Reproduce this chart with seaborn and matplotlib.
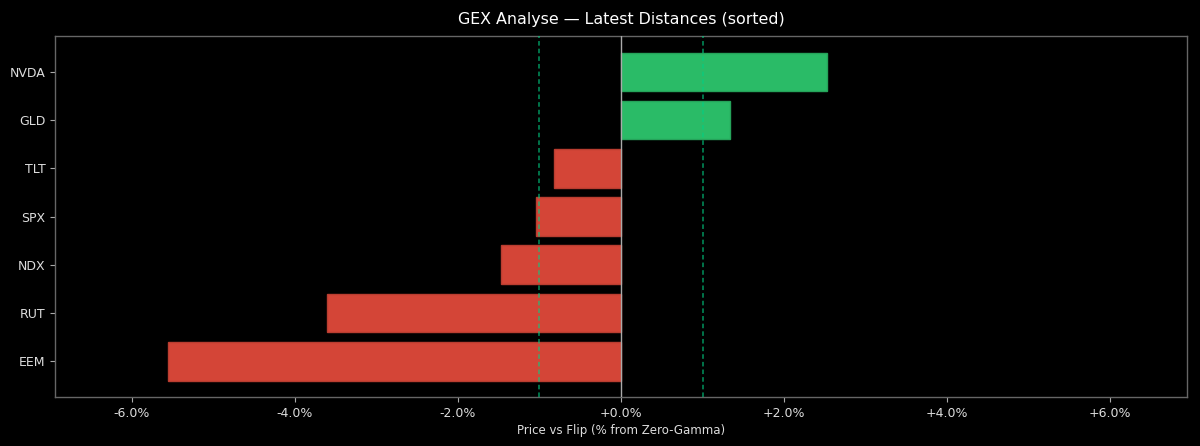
import numpy as np
import pandas as pd
import matplotlib
matplotlib.use("Agg")
import matplotlib.pyplot as plt
import seaborn as sns
from matplotlib.ticker import FuncFormatter

# --- DATA ---
tickers = ["NVDA", "GLD", "TLT", "SPX", "NDX", "RUT", "EEM"]
distances = [2.52, 1.34, -0.82, -1.04, -1.47, -3.60, -5.55]  # % price vs flip
band = 1.0  # +/- threshold lines

GREEN = "#2ecc71"
RED = "#e74c3c"

df = pd.DataFrame({"ticker": tickers, "dist": distances})
df["side"] = np.where(df["dist"] >= 0, "pos", "neg")

sns.set_style("dark")
plt.rcParams["font.family"] = ["DejaVu Sans"]

fig = plt.figure(figsize=(12, 4.46), dpi=100, facecolor="black")
ax = fig.add_axes([0.046, 0.11, 0.943, 0.809])
ax.set_facecolor("black")

sns.barplot(data=df, x="dist", y="ticker", hue="side", orient="h",
            palette={"pos": GREEN, "neg": RED}, width=0.8,
            order=tickers, legend=False, ax=ax, saturation=1)
for p in ax.patches:
    fc = p.get_facecolor()
    p.set_facecolor((*fc[:3], 0.92))
    p.set_edgecolor(tuple(c * 0.8 for c in fc[:3]))
    p.set_linewidth(1.0)

ax.axvline(0, color="#aaaaaa", lw=1.0, zorder=5)
for v in (-band, band):
    ax.axvline(v, color="#00d084", lw=1.1, ls=(0, (3, 2)), alpha=0.7, zorder=6)

lim = max(abs(d) for d in distances) * 1.25
ax.set_xlim(-lim, lim)
n = len(tickers)
ax.set_ylim(n - 1 + 0.74, -0.74)
ax.set_xticks([-6, -4, -2, 0, 2, 4, 6])
ax.xaxis.set_major_formatter(FuncFormatter(lambda v, _: f"{v:+.1f}%"))

ax.grid(False)
for s in ax.spines.values():
    s.set_visible(True)
    s.set_color("#666666")
    s.set_linewidth(1.0)
ax.tick_params(colors="#dddddd", labelsize=9, length=3.5, width=0.8, left=True, bottom=True)
ax.tick_params(axis="both", color="#aaaaaa")

ax.set_xlabel("Price vs Flip (% from Zero-Gamma)", color="#dddddd", fontsize=8.5, labelpad=3)
ax.set_ylabel("")
ax.set_title("GEX Analyse — Latest Distances (sorted)", color="white", fontsize=11.4, pad=9)

fig.savefig("out.png", dpi=100, facecolor="black")
